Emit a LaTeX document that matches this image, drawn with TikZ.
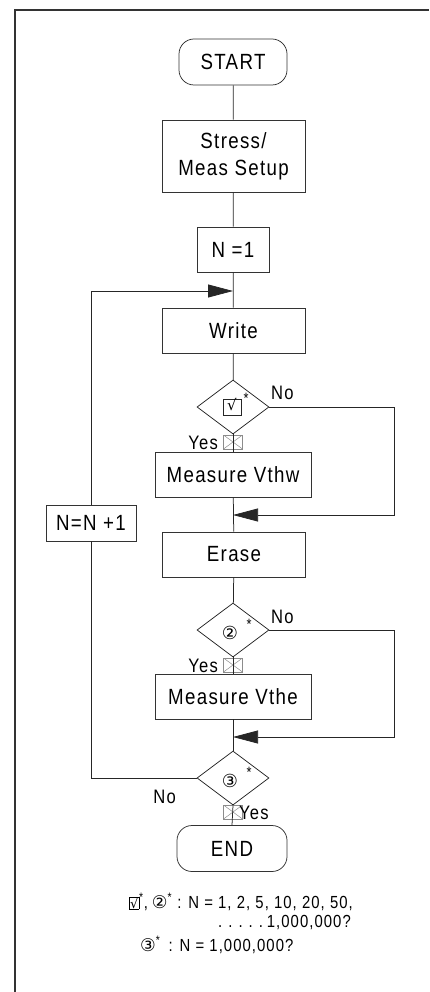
\documentclass[tikz,border=0pt]{standalone}
\usepackage{fontspec}
\setmainfont[FakeStretch=0.85,LetterSpace=6]{Liberation Sans}
\newfontfamily\symfont{DejaVu Sans}
\usetikzlibrary{arrows.meta,shapes.geometric}
\begin{document}
\begin{tikzpicture}[x=1pt,y=-1pt,
  every node/.style={inner sep=0pt},
  ln/.style={line width=0.75pt, draw=black!85},
  box/.style={draw=black!80, line width=0.75pt, rectangle, minimum width=143pt, minimum height=45pt, font=\fontsize{22}{27}\selectfont, align=center},
  term/.style={box, rounded corners=15pt, minimum width=108pt, minimum height=46pt},
  dec/.style={draw=black!85, line width=0.75pt, diamond, minimum width=72pt, minimum height=54pt},
  lbl/.style={font=\fontsize{19.5}{20}\selectfont},
  ymk/.style={draw=black!45, line width=0.5pt, minimum width=19pt, minimum height=14pt,
    path picture={\draw[black!45, line width=0.5pt] (path picture bounding box.north west) -- (path picture bounding box.south east) (path picture bounding box.north east) -- (path picture bounding box.south west);}},
  arr/.style={ln, -{Triangle[length=25pt,width=13pt]}},
  sym/.style={font=\symfont\fontsize{16}{16}\selectfont},
  ast/.style={font=\fontsize{15}{15}\selectfont},
  note/.style={font=\fontsize{17.5}{20}\selectfont}
]
\useasboundingbox (0,0) rectangle (429,992);
\draw[line width=1.2pt, black!80] (15,992) -- (15,10) -- (429,10);

\node[term] (start) at (233,62) {START};
\node[box, minimum height=72pt] (setup) at (233.5,156) {Stress/\\Meas Setup};
\node[box, minimum width=72pt] (n1) at (233,249.5) {N =1};
\node[box] (write) at (233.5,330.5) {Write};
\node[dec] (d1) at (233,407) {};
\node[ymk] (y1) at (233,442) {};
\node[box, minimum width=156pt] (mvw) at (233,474.5) {Measure Vthw};
\node[box] (erase) at (234,554.5) {Erase};
\node[dec] (d2) at (233,630) {};
\node[ymk] (y2) at (233,665) {};
\node[box, minimum width=156pt] (mve) at (233,696.5) {Measure Vthe};
\node[dec] (d3) at (233,778) {};
\node[ymk] (y3) at (233,812) {};
\node[term, minimum width=110pt] (end) at (232,848.5) {END};
\node[box, minimum width=90pt, minimum height=36pt] (nn) at (91,523) {N=N +1};

% diamond symbols
\node[draw=black!85, line width=0.6pt, minimum width=18pt, minimum height=16pt] (sq1) at (232,407) {};
\node[sym, font=\symfont\fontsize{15}{15}\selectfont] (rt1) at (232,405) {√};
\node[ast] (a1) at (246,398) {*};
\node[sym, font=\symfont\fontsize{18}{18}\selectfont] (c2) at (230,633) {②};
\node[ast] (a2) at (249,624) {*};
\node[sym, font=\symfont\fontsize{18}{18}\selectfont] (c3) at (230,781) {③};
\node[ast] (a3) at (249,772) {*};

% labels
\node[lbl, anchor=base west] (no1) at (271,399) {No};
\node[lbl, anchor=base west] (no2) at (271,623) {No};
\node[lbl, anchor=base east] (no3) at (176,803) {No};
\node[lbl, anchor=base east] (ye1) at (218,449) {Yes};
\node[lbl, anchor=base east] (ye2) at (218,672) {Yes};
\node[lbl, anchor=base west] (ye3) at (239,819) {Yes};

% junctions
\coordinate (j0) at (233,291);
\coordinate (j1) at (233,515);
\coordinate (j2) at (233,737);
\coordinate (rx) at (394,0);

% connectors
\draw[ln] (start) -- (setup);
\draw[ln] (setup) -- (n1);
\draw[ln] (n1) -- (write);
\draw[ln] (write) -- (d1);
\draw[ln] (d1.south) -- (mvw.north);
\draw[ln] (mvw) -- (erase);
\draw[ln] (erase) -- (d2);
\draw[ln] (d2.south) -- (mve.north);
\draw[ln] (mve) -- (d3);
\draw[ln] (d3.south) -- (end.north);
\draw[arr] (d1.east) -- (d1.east -| rx) |- (j1);
\draw[arr] (d2.east) -- (d2.east -| rx) |- (j2);
\draw[ln] (d3.west) -| (nn.south);
\draw[arr] (nn.north) |- (j0);

% notes
\node[note, anchor=base east] (nt1) at (353,908) {{\setlength\fboxsep{0.5pt}\fbox{\symfont\fontsize{13}{13}\selectfont √}}\textsuperscript{*},\hspace{4pt}{\symfont ②}\textsuperscript{*} : N = 1, 2, 5, 10, 20, 50,};
\node[note, anchor=base east] (nt2) at (351,927) {.\hspace{6pt}.\hspace{6pt}.\hspace{6pt}.\hspace{6pt}.\hspace{4pt}1,000,000?};
\node[note, anchor=base west] (nt3) at (140,951) {{\symfont ③}\textsuperscript{*}\hspace{3pt} : N = 1,000,000?};
\end{tikzpicture}
\end{document}
